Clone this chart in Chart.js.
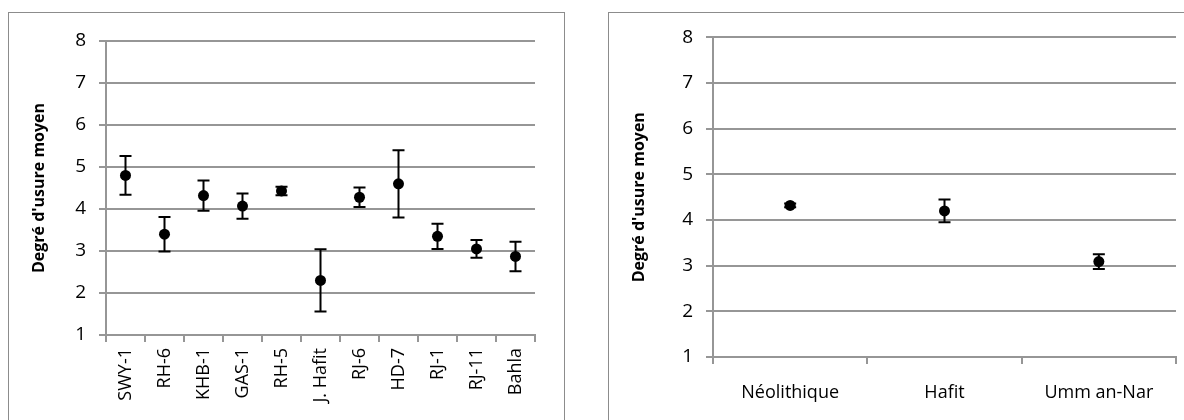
<!DOCTYPE html>
<html>
<head>
<meta charset="utf-8">
<script src="https://cdn.jsdelivr.net/npm/chart.js@4"></script>
<style>
  html, body { margin: 0; padding: 0; background: #fff; }
  body { width: 1184px; height: 420px; position: relative; overflow: hidden; }
  .cadre { position: absolute; top: 12px; height: 420px; border: 1px solid #8c8c8c; box-sizing: border-box; }
  .cadre canvas { display: block; }
</style>
</head>
<body>
<div class="cadre" style="left:8px; width:557px;"><canvas id="graficoSites" width="555" height="400"></canvas></div>
<div class="cadre" style="left:608px; width:590px;"><canvas id="graficoPeriodes" width="588" height="400"></canvas></div>

<script>
// données
const sites = ['SWY-1', 'RH-6', 'KHB-1', 'GAS-1', 'RH-5', 'J. Hafit', 'RJ-6', 'HD-7', 'RJ-1', 'RJ-11', 'Bahla'];
const moyennesSites = [4.80, 3.40, 4.32, 4.07, 4.43, 2.30, 4.28, 4.60, 3.35, 3.05, 2.87];
const erreursSites = [0.46, 0.41, 0.36, 0.30, 0.10, 0.74, 0.23, 0.80, 0.30, 0.21, 0.35];

const periodes = ['Néolithique', 'Hafit', 'Umm an-Nar'];
const moyennesPeriodes = [4.32, 4.20, 3.09];
const erreursPeriodes = [0.04, 0.25, 0.16];

const yMin = 1, yMax = 8, yPas = 1;

const gris = '#969696';
const police = "'Open Sans', sans-serif";
const titreAxe = "Degré d'usure moyen";

// barres d'erreur dessinées avec les échelles du graphique
const barresErreur = {
  id: 'barresErreur',
  beforeDatasetsDraw(chart) {
    const { ctx, scales: { x, y } } = chart;
    chart.data.datasets.forEach(ds => {
      if (!ds.erreurs) return;
      ctx.save();
      ctx.strokeStyle = '#000';
      ctx.lineWidth = 2;
      ds.data.forEach((v, i) => {
        const px = x.getPixelForValue(i);
        const haut = y.getPixelForValue(v + ds.erreurs[i]);
        const bas = y.getPixelForValue(v - ds.erreurs[i]);
        ctx.beginPath();
        ctx.moveTo(px, haut); ctx.lineTo(px, bas);
        ctx.moveTo(px - 6, haut); ctx.lineTo(px + 6, haut);
        ctx.moveTo(px - 6, bas); ctx.lineTo(px + 6, bas);
        ctx.stroke();
      });
      ctx.restore();
    });
  }
};

function creerGraphique(id, labels, valeurs, erreurs, cfg) {
  return new Chart(document.getElementById(id), {
    type: 'line',
    data: {
      labels: labels,
      datasets: [{
        data: valeurs,
        erreurs: erreurs,
        showLine: false,
        pointRadius: 5.5,
        pointHoverRadius: 5.5,
        pointBackgroundColor: '#000',
        pointBorderColor: '#000',
        pointBorderWidth: 0
      }]
    },
    plugins: [barresErreur],
    options: {
      responsive: false,
      animation: false,
      layout: { padding: { top: cfg.haut, right: cfg.droite, left: 0, bottom: 0 } },
      plugins: { legend: { display: false }, tooltip: { enabled: false } },
      scales: {
        x: {
          offset: true,
          afterFit: s => { s.height = cfg.hauteurX; },
          grid: { offset: true, drawOnChartArea: false, tickLength: 7, color: gris, lineWidth: 2 },
          border: { color: gris, width: 2 },
          ticks: {
            autoSkip: false,
            minRotation: cfg.rotation,
            maxRotation: cfg.rotation,
            padding: cfg.padX,
            color: '#000',
            font: { family: police, size: 18 }
          }
        },
        y: {
          min: yMin,
          max: yMax,
          afterFit: s => { s.width = cfg.largeurY; },
          grid: { tickLength: 7, color: gris, lineWidth: 2 },
          border: { color: gris, width: 2 },
          ticks: { stepSize: yPas, padding: 13, color: '#000', font: { family: police, size: 19 } },
          title: {
            display: true,
            text: titreAxe,
            color: '#000',
            padding: { top: 21, bottom: 0 },
            font: { family: police, size: 16, weight: 'bold' }
          }
        }
      }
    }
  });
}

creerGraphique('graficoSites', sites, moyennesSites, erreursSites,
  { haut: 28, droite: 29, hauteurX: 78, largeurY: 97, rotation: 90, padX: 6 });

creerGraphique('graficoPeriodes', periodes, moyennesPeriodes, erreursPeriodes,
  { haut: 18, droite: 21, hauteurX: 56, largeurY: 104, rotation: 0, padX: 18 });
</script>
</body>
</html>
